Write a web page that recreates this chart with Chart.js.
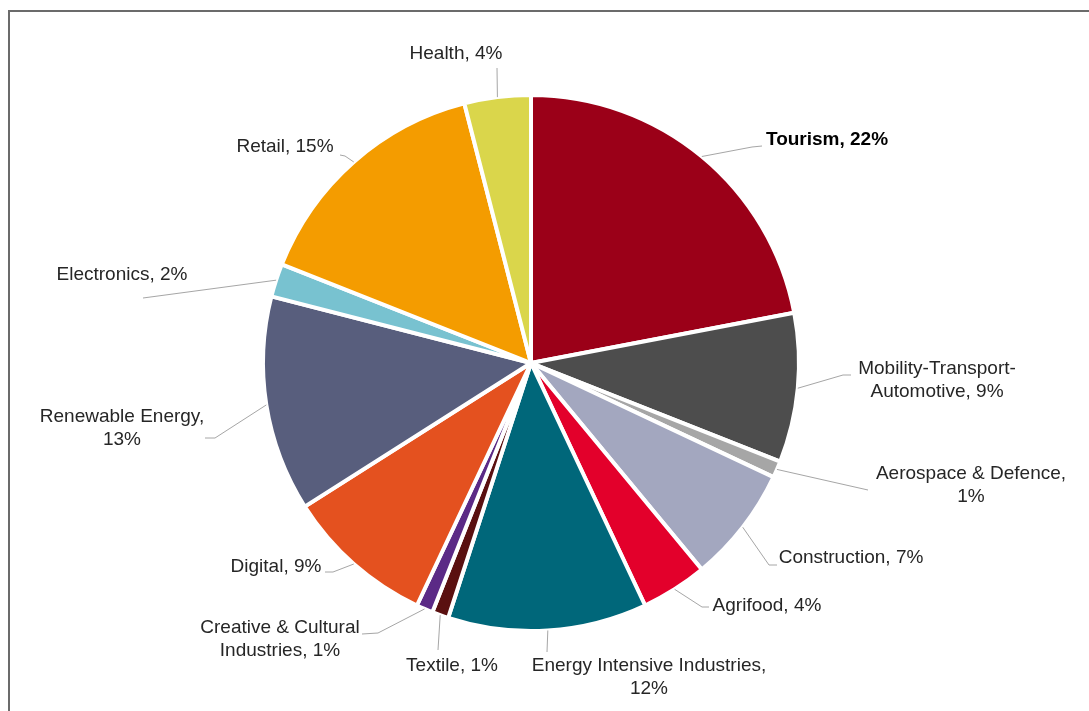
<!DOCTYPE html>
<html>
<head>
<meta charset="utf-8">
<script src="https://cdn.jsdelivr.net/npm/chart.js@4/dist/chart.umd.min.js"></script>
<style>
   html, body { margin: 0; padding: 0; background: #fff; }
   #wrap { width: 1089px; height: 711px; }
</style>
</head>
<body>
<div id="wrap"><canvas id="sectorChart" width="1089" height="711"></canvas></div>
<script>
// Data, clockwise from 12 o'clock
const sectors = [
   'Tourism', 'Mobility-Transport-Automotive', 'Aerospace & Defence', 'Construction',
   'Agrifood', 'Energy Intensive Industries', 'Textile', 'Creative & Cultural Industries',
   'Digital', 'Renewable Energy', 'Electronics', 'Retail', 'Health'
];
const shares = [22, 9, 1, 7, 4, 12, 1, 1, 9, 13, 2, 15, 4];
const sliceColors = [
   '#9b0018', '#4d4d4d', '#a6a6a6', '#a3a7bf', '#e3002b', '#00677a', '#5a1010',
   '#5b2a86', '#e4511f', '#585e7d', '#78c2d0', '#f49c00', '#dad64b'
];

// Label placement (text centre, line break, leader path back to the slice)
const labelLayout = [
   { x: 827, y: 140, bold: true, path: [[752, 147], [762, 146]] },
   { x: 937, y: 369, breakBefore: 'Automotive', path: [[843, 375], [851, 375]] },
   { x: 971, y: 474, breakBefore: '1%', path: [[868, 490]] },
   { x: 851, y: 558, path: [[769, 565], [777, 565]] },
   { x: 767, y: 606, path: [[702, 607], [709, 607]] },
   { x: 649, y: 666, breakBefore: '12%', path: [[547, 652]] },
   { x: 452, y: 666, path: [[438, 650]] },
   { x: 280, y: 628, breakBefore: 'Industries', path: [[378, 633], [362, 634]] },
   { x: 276, y: 567, path: [[333, 572], [325, 572]] },
   { x: 122, y: 417, breakBefore: '13%', path: [[215, 438], [205, 438]] },
   { x: 122, y: 275, path: [[143, 298]] },
   { x: 285, y: 147, path: [[345, 156], [340, 155]] },
   { x: 456, y: 54, path: [[497, 68]] }
];

const FONT = '"Liberation Sans", Arial, sans-serif';

// frame + labels with leader lines
const sliceLabels = {
   id: 'sliceLabels',
   beforeDraw(chart) {
      const ctx = chart.ctx;
      ctx.save();
      ctx.fillStyle = '#ffffff';
      ctx.fillRect(0, 0, chart.width, chart.height);
      ctx.strokeStyle = '#6b6b6b';
      ctx.lineWidth = 2;
      ctx.beginPath();
      ctx.moveTo(9, chart.height);
      ctx.lineTo(9, 11);
      ctx.lineTo(chart.width, 11);
      ctx.stroke();
      ctx.restore();
   },
   afterDatasetsDraw(chart) {
      const ctx = chart.ctx;
      const meta = chart.getDatasetMeta(0);
      ctx.save();
      meta.data.forEach((arc, i) => {
         const lay = labelLayout[i];
         const mid = (arc.startAngle + arc.endAngle) / 2;
         const sx = arc.x + Math.cos(mid) * arc.outerRadius;
         const sy = arc.y + Math.sin(mid) * arc.outerRadius;

         ctx.strokeStyle = '#a6a6a6';
         ctx.lineWidth = 1;
         ctx.beginPath();
         ctx.moveTo(sx, sy);
         lay.path.forEach(p => ctx.lineTo(p[0], p[1]));
         ctx.stroke();

         const text = `${sectors[i]}, ${shares[i]}%`;
         let lines = [text];
         if (lay.breakBefore) {
            const k = text.lastIndexOf(lay.breakBefore);
            lines = [text.slice(0, k).trimEnd(), text.slice(k)];
         }
         ctx.fillStyle = lay.bold ? '#000000' : '#262626';
         ctx.font = (lay.bold ? 'bold ' : '') + '19px ' + FONT;
         ctx.textAlign = 'center';
         ctx.textBaseline = 'middle';
         lines.forEach((ln, j) => ctx.fillText(ln, lay.x, lay.y + j * 23));
      });
      ctx.restore();
   }
};

const ctx = document.getElementById('sectorChart').getContext('2d');
new Chart(ctx, {
   type: 'pie',
   data: {
      labels: sectors,
      datasets: [{
         data: shares,
         backgroundColor: sliceColors,
         borderColor: '#ffffff',
         borderWidth: 4
      }]
   },
   options: {
      responsive: false,
      animation: false,
      radius: 268,
      layout: { padding: { left: 263, right: 290, top: 95, bottom: 80 } },
      plugins: {
         legend: { display: false },
         tooltip: { enabled: false }
      }
   },
   plugins: [sliceLabels]
});
</script>
</body>
</html>
